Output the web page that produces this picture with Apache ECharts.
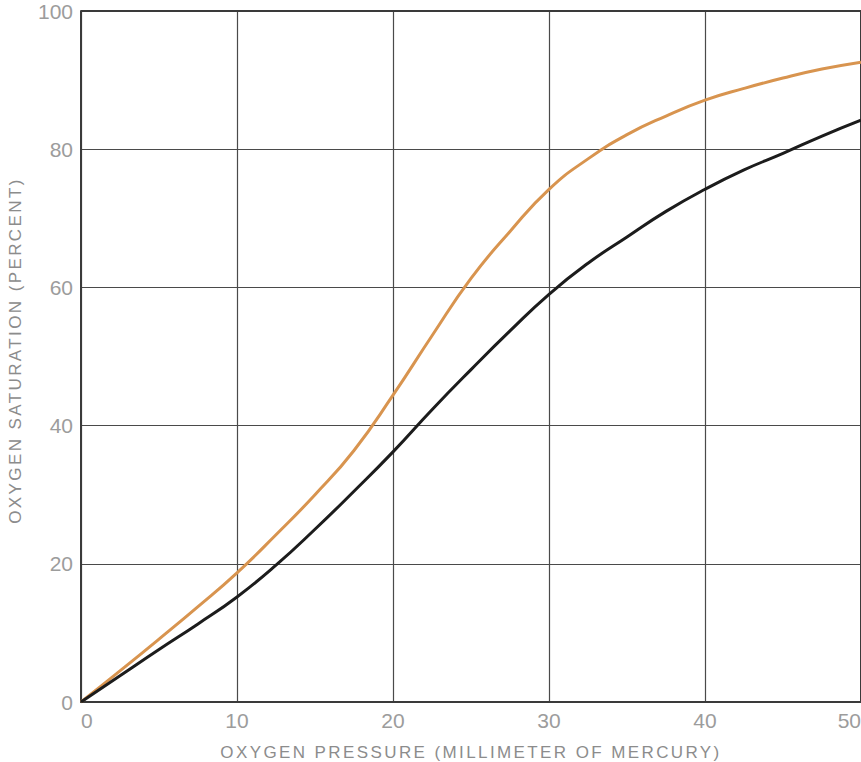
<!DOCTYPE html>
<html>
<head>
<meta charset="utf-8">
<script src="https://cdn.jsdelivr.net/npm/echarts@6/dist/echarts.min.js"></script>
<style>
  html, body { margin: 0; padding: 0; background: #fff; }
  #chart { width: 861px; height: 762px; }
  /* tracked capitals for the two axis titles */
  #chart text[style*="17px"] { letter-spacing: 2.4px; }
</style>
</head>
<body>
<div id="chart"></div>
<script>
// Oxygen dissociation curves: saturation (%) against oxygen pressure (mm Hg)
const xTicks = [0, 10, 20, 30, 40, 50];
const yTicks = [0, 20, 40, 60, 80, 100];

// Upper (orange) curve
const upperCurve = [
  [0, 0], [2.5, 4.5], [5, 9.1], [7.5, 13.8], [10, 18.7], [12.5, 24.2],
  [15, 30], [17.5, 36.4], [20, 44.4], [22.5, 53], [25, 61.3],
  [27.5, 68.1], [30, 74.2], [32.5, 78.6], [35, 82.1], [37.5, 84.8],
  [40, 87.1], [42.5, 88.8], [45, 90.3], [47.5, 91.6], [50, 92.6]
];

// Lower (black) curve
const lowerCurve = [
  [0, 0], [2.5, 3.8], [5, 7.6], [7.5, 11.3], [10, 15.2], [12.5, 19.8],
  [15, 25], [17.5, 30.5], [20, 36.2], [22.5, 42.3], [25, 48.1],
  [27.5, 53.7], [30, 59], [32.5, 63.5], [35, 67.3], [37.5, 71],
  [40, 74.2], [42.5, 77], [45, 79.4], [47.5, 81.9], [50, 84.2]
];

const chart = echarts.init(document.getElementById('chart'), null, { renderer: 'svg' });

const tickFont = {
  color: '#9c9c9c', fontFamily: 'Liberation Sans, sans-serif', fontSize: 21
};
const nameFont = {
  color: '#8c8c8c', fontFamily: 'Liberation Sans, sans-serif', fontSize: 17
};

chart.setOption({
  animation: false,
  backgroundColor: '#ffffff',
  grid: { left: 81, right: 0, top: 11, bottom: 60, outerBoundsMode: 'none', containLabel: false },
  xAxis: {
    type: 'value', min: 0, max: 50, interval: 10,
    name: 'OXYGEN PRESSURE (MILLIMETER OF MERCURY)',
    nameLocation: 'middle', nameGap: 42,
    nameTextStyle: nameFont,
    axisLine: { show: true, lineStyle: { color: '#3a3a3a', width: 2 } },
    axisTick: { show: false },
    axisLabel: Object.assign({}, tickFont, {
      margin: 8, alignMinLabel: 'left', alignMaxLabel: 'right',
      formatter: v => xTicks.includes(v) ? String(v) : ''
    }),
    splitLine: { show: true, lineStyle: { color: '#4a4a4a', width: 1.2 } }
  },
  yAxis: {
    type: 'value', min: 0, max: 100, interval: 20,
    name: 'OXYGEN SATURATION (PERCENT)',
    nameLocation: 'middle', nameGap: 57, nameRotate: 90,
    nameTextStyle: Object.assign({}, nameFont, { padding: [0, 0, 0, 12] }),
    axisLine: { show: true, lineStyle: { color: '#3a3a3a', width: 2 } },
    axisTick: { show: false },
    axisLabel: Object.assign({}, tickFont, {
      margin: 8,
      formatter: v => yTicks.includes(v) ? String(v) : ''
    }),
    splitLine: { show: true, lineStyle: { color: '#4a4a4a', width: 1.2 } }
  },
  series: [
    {
      type: 'line', data: upperCurve, smooth: 0.5, showSymbol: false,
      lineStyle: { color: '#d8944f', width: 3 }, z: 3
    },
    {
      type: 'line', data: lowerCurve, smooth: 0.5, showSymbol: false,
      lineStyle: { color: '#1c1c1c', width: 3 }, z: 4
    },
    {
      // top and right frame
      type: 'line', data: [[0, 100], [50, 100], [50, 0]], showSymbol: false,
      lineStyle: { color: '#3a3a3a', width: 2 }, silent: true, z: 2
    }
  ]
});
</script>
</body>
</html>
